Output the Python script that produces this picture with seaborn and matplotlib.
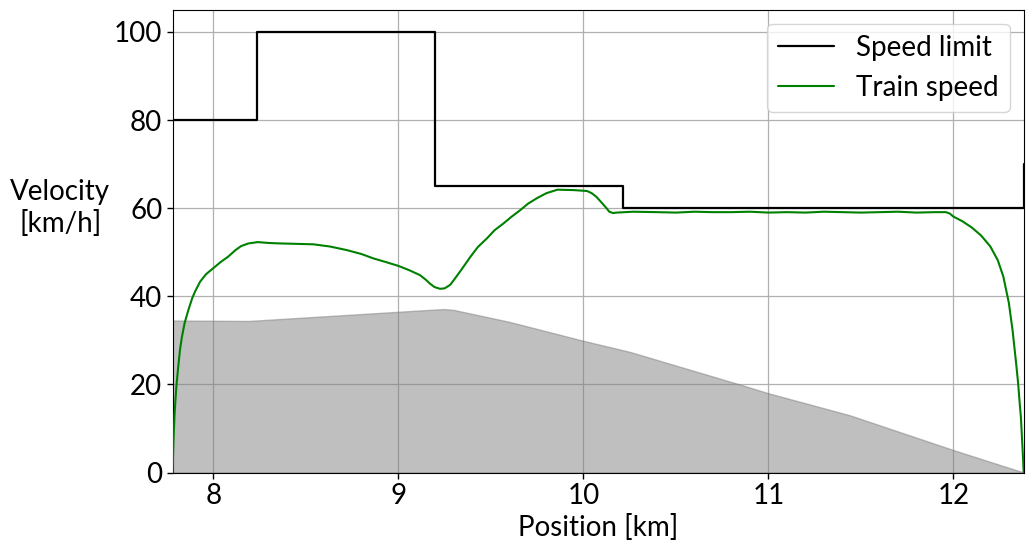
import matplotlib
matplotlib.use("Agg")
import matplotlib.pyplot as plt
import seaborn as sns

# Speed limit (step profile)
limit_pos = [7.78, 8.236, 9.198, 10.213, 12.38]
limit_kmh = [80, 100, 65, 60, 70]

# Measured train speed
train_pos = [7.78, 7.782, 7.785, 7.79, 7.795, 7.80, 7.81, 7.82, 7.83, 7.845,
             7.865, 7.885, 7.90, 7.928, 7.96, 8.0, 8.04, 8.08, 8.12, 8.15,
             8.19, 8.24, 8.3, 8.36, 8.45, 8.54, 8.63, 8.72, 8.8, 8.865,
             8.93, 9.0, 9.06, 9.117, 9.15, 9.17, 9.195, 9.225, 9.25, 9.28,
             9.30, 9.34, 9.39, 9.43, 9.48, 9.52, 9.57, 9.61, 9.66, 9.70,
             9.75, 9.80, 9.86, 9.95, 10.02, 10.045, 10.07, 10.1, 10.125, 10.14,
             10.16, 10.18, 10.27, 10.4, 10.5, 10.6, 10.7, 10.8, 10.9, 11.0,
             11.1, 11.2, 11.3, 11.4, 11.5, 11.6, 11.7, 11.8, 11.9, 11.96,
             11.98, 12.0, 12.05, 12.1, 12.15, 12.2, 12.24, 12.27, 12.3, 12.32,
             12.34, 12.35, 12.36, 12.365, 12.372, 12.377, 12.38]
train_kmh = [0, 4, 8, 13, 16.5, 19.5, 24, 28, 30.8, 34,
             36.9, 39.5, 41, 43.3, 45, 46.4, 47.8, 49, 50.5, 51.4,
             52.0, 52.3, 52.1, 52.0, 51.9, 51.8, 51.3, 50.5, 49.6, 48.6,
             47.8, 46.9, 45.9, 44.8, 43.7, 42.9, 42.1, 41.7, 41.8, 42.6,
             43.7, 46, 49, 51.2, 53.2, 55, 56.6, 58, 59.6, 61,
             62.3, 63.4, 64.2, 64.1, 63.9, 63.4, 62.6, 61.2, 60, 59.2,
             58.9, 59.0, 59.2, 59.1, 59.0, 59.2, 59.1, 59.1, 59.2, 59.0,
             59.1, 59.0, 59.2, 59.1, 59.0, 59.1, 59.2, 59.0, 59.1, 59.1,
             58.8, 58.1, 57.0, 55.6, 53.8, 51.3, 48.2, 44.5, 38.5, 32.3,
             24.5, 20.3, 15, 12.6, 7, 3, 0]

# Elevation profile (background)
elev_pos = [7.78, 8.19, 9.2, 9.25, 9.3, 9.6, 10.0, 10.25, 10.86, 11.0, 11.44, 12.0, 12.38]
elev_val = [34.5, 34.4, 37.0, 37.1, 36.9, 34.2, 29.9, 27.4, 19.8, 18.0, 13.0, 5.1, 0]

sns.set_style("ticks", {"axes.grid": True, "grid.color": "#b0b0b0",
                        "axes.edgecolor": "black", "xtick.color": "black",
                        "ytick.color": "black", "text.color": "black",
                        "axes.labelcolor": "black"})
plt.rcParams["font.family"] = ["Lato", "DejaVu Sans"]

fig, ax = plt.subplots(figsize=(10.34, 5.52), dpi=100)
fig.subplots_adjust(left=0.167, right=0.990, top=0.982, bottom=0.144)

ax.fill_between(elev_pos, elev_val, color="grey", alpha=0.5, zorder=1)
sns.lineplot(x=limit_pos, y=limit_kmh, ax=ax, color="black", linewidth=1.6,
             drawstyle="steps-post", label="Speed limit", zorder=3)
sns.lineplot(x=train_pos, y=train_kmh, ax=ax, color="green", linewidth=1.5,
             label="Train speed", zorder=3)

ax.set_xlim(7.78, 12.38)
ax.set_ylim(0, 105)
ax.set_xticks([8, 9, 10, 11, 12])
ax.set_yticks([0, 20, 40, 60, 80, 100])
ax.tick_params(labelsize=20, length=4, width=1, colors="black")
for s in ax.spines.values():
    s.set_color("black")
ax.grid(True, color="#b0b0b0", linewidth=0.9)
ax.set_axisbelow(True)

ax.set_xlabel("Position [km]", fontsize=20, labelpad=4, color="black")
ax.set_ylabel("Velocity\n[km/h]", fontsize=20, rotation=0, ha="center",
              va="center", color="black")
ax.yaxis.set_label_coords(-0.132, 0.572)

leg = ax.legend(loc="upper right", fontsize=20, frameon=True, framealpha=0.8)
for t in leg.get_texts():
    t.set_color("black")

fig.savefig("out.png", dpi=100)
